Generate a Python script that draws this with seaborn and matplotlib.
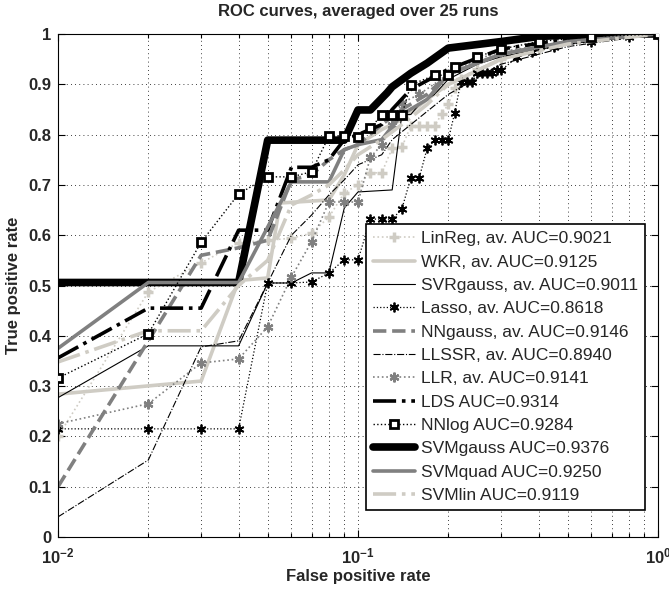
import numpy as np
import pandas as pd
import matplotlib
matplotlib.use('Agg')
import matplotlib.pyplot as plt
import seaborn as sns
from matplotlib.ticker import FixedLocator, FixedFormatter, NullFormatter

# ---------------- data ----------------
linreg_x = [0.01, 0.02, 0.03, 0.04, 0.05, 0.06, 0.07, 0.08, 0.09, 0.10, 0.11, 0.12, 0.13, 0.14,
            0.15, 0.16, 0.17, 0.18, 0.19, 0.20, 0.21, 0.22, 0.25, 0.30, 0.40, 0.60, 1.00]
linreg_y = [0.200, 0.487, 0.545, 0.585, 0.590, 0.594, 0.604, 0.636, 0.684, 0.700, 0.724, 0.724, 0.773, 0.775,
            0.817, 0.817, 0.817, 0.817, 0.841, 0.860, 0.893, 0.910, 0.930, 0.950, 0.970, 0.990, 1.000]

wkr_x = [0.01, 0.03, 0.04, 0.05, 0.055, 0.08, 0.09, 0.10, 0.12, 0.14, 0.17, 0.20, 0.30, 0.50, 1.00]
wkr_y = [0.284, 0.310, 0.510, 0.515, 0.664, 0.670, 0.720, 0.780, 0.810, 0.830, 0.870, 0.900, 0.950, 0.985, 1.000]

svrg_x = [0.01, 0.02, 0.04, 0.05, 0.06, 0.07, 0.08, 0.09, 0.10, 0.13, 0.14, 0.15, 0.16, 0.18, 0.20, 0.25, 0.30, 0.50, 1.00]
svrg_y = [0.277, 0.380, 0.380, 0.505, 0.505, 0.525, 0.525, 0.654, 0.686, 0.690, 0.840, 0.840, 0.860, 0.880, 0.910, 0.940, 0.955, 0.980, 1.000]

lasso_x = [0.01, 0.02, 0.03, 0.04, 0.05, 0.06, 0.07, 0.08, 0.09, 0.10, 0.11, 0.12, 0.13, 0.14, 0.15, 0.16,
           0.17, 0.18, 0.19, 0.20, 0.21, 0.22, 0.23, 0.24, 0.25, 0.26, 0.27, 0.28, 0.29, 0.30, 0.34, 0.38,
           0.45, 0.60, 0.80, 1.00]
lasso_y = [0.215, 0.215, 0.215, 0.215, 0.505, 0.505, 0.507, 0.525, 0.551, 0.551, 0.632, 0.632, 0.632, 0.652, 0.714, 0.714,
           0.773, 0.790, 0.790, 0.790, 0.843, 0.904, 0.904, 0.904, 0.922, 0.922, 0.922, 0.922, 0.928, 0.928, 0.954, 0.964,
           0.975, 0.985, 0.995, 1.000]

nng_x = [0.01, 0.02, 0.03, 0.04, 0.05, 0.06, 0.07, 0.08, 0.09, 0.10, 0.12, 0.14, 0.17, 0.20, 0.30, 0.50, 1.00]
nng_y = [0.100, 0.390, 0.560, 0.575, 0.590, 0.710, 0.720, 0.750, 0.770, 0.780, 0.820, 0.850, 0.880, 0.920, 0.960, 0.985, 1.000]

llssr_x = [0.01, 0.02, 0.03, 0.04, 0.05, 0.06, 0.07, 0.08, 0.09, 0.10, 0.12, 0.13, 0.15, 0.20, 0.30, 0.50, 1.00]
llssr_y = [0.040, 0.153, 0.378, 0.390, 0.505, 0.600, 0.640, 0.680, 0.710, 0.740, 0.760, 0.790, 0.820, 0.880, 0.940, 0.975, 1.000]

llr_x = [0.01, 0.02, 0.03, 0.04, 0.05, 0.06, 0.07, 0.08, 0.09, 0.10, 0.11, 0.12, 0.13, 0.14, 0.16, 0.20, 0.25, 0.30, 0.50, 1.00]
llr_y = [0.225, 0.265, 0.346, 0.354, 0.418, 0.517, 0.587, 0.666, 0.666, 0.666, 0.755, 0.780, 0.820, 0.863, 0.880, 0.920, 0.950, 0.965, 0.985, 1.000]

lds_x = [0.01, 0.02, 0.03, 0.04, 0.05, 0.06, 0.07, 0.08, 0.09, 0.10, 0.12, 0.13, 0.15, 0.20, 0.30, 0.50, 1.00]
lds_y = [0.356, 0.455, 0.455, 0.610, 0.610, 0.735, 0.735, 0.750, 0.790, 0.800, 0.820, 0.850, 0.890, 0.930, 0.970, 0.990, 1.000]

nnlog_x = [0.01, 0.02, 0.03, 0.04, 0.05, 0.06, 0.07, 0.08, 0.09, 0.10, 0.11, 0.12, 0.13, 0.14, 0.15, 0.18, 0.20,
           0.21, 0.25, 0.30, 0.40, 0.60, 1.00]
nnlog_y = [0.316, 0.404, 0.586, 0.682, 0.716, 0.716, 0.726, 0.797, 0.797, 0.795, 0.813, 0.839, 0.839, 0.839, 0.899, 0.918, 0.918,
           0.934, 0.955, 0.970, 0.985, 0.995, 1.000]

svmg_x = [0.01, 0.04, 0.05, 0.09, 0.10, 0.11, 0.125, 0.13, 0.15, 0.17, 0.20, 0.30, 0.40, 0.60, 1.00]
svmg_y = [0.506, 0.506, 0.789, 0.789, 0.849, 0.849, 0.883, 0.895, 0.922, 0.942, 0.972, 0.985, 0.995, 1.000, 1.000]

svmq_x = [0.01, 0.02, 0.04, 0.06, 0.08, 0.09, 0.10, 0.12, 0.14, 0.17, 0.20, 0.30, 0.50, 1.00]
svmq_y = [0.375, 0.506, 0.506, 0.706, 0.706, 0.770, 0.780, 0.790, 0.840, 0.870, 0.920, 0.960, 0.985, 1.000]

svml_x = [0.01, 0.02, 0.03, 0.04, 0.05, 0.06, 0.07, 0.08, 0.09, 0.10, 0.12, 0.14, 0.17, 0.20, 0.30, 0.50, 1.00]
svml_y = [0.348, 0.410, 0.410, 0.500, 0.550, 0.660, 0.680, 0.700, 0.730, 0.760, 0.790, 0.820, 0.860, 0.900, 0.950, 0.980, 1.000]

labels = ["LinReg, av. AUC=0.9021", "WKR, av. AUC=0.9125", "SVRgauss, av. AUC=0.9011",
          "Lasso, av. AUC=0.8618", "NNgauss, av. AUC=0.9146", "LLSSR, av. AUC=0.8940",
          "LLR, av. AUC=0.9141", "LDS AUC=0.9314", "NNlog AUC=0.9284",
          "SVMgauss AUC=0.9376", "SVMquad AUC=0.9250", "SVMlin AUC=0.9119"]

xticks = [0.01, 0.1, 1.0]
xticklabels = [r'$\mathbf{10^{-2}}$', r'$\mathbf{10^{-1}}$', r'$\mathbf{10^{0}}$']
yticks = [0, 0.1, 0.2, 0.3, 0.4, 0.5, 0.6, 0.7, 0.8, 0.9, 1.0]
yticklabels = ["0", "0.1", "0.2", "0.3", "0.4", "0.5", "0.6", "0.7", "0.8", "0.9", "1"]

# ---------------- style ----------------
sns.set_style('ticks')
plt.rcParams['font.family'] = ['Liberation Sans', 'DejaVu Sans']
plt.rcParams['mathtext.fontset'] = 'custom'
plt.rcParams['mathtext.rm'] = 'Liberation Sans:bold'
plt.rcParams['mathtext.bf'] = 'Liberation Sans:bold'
plt.rcParams['mathtext.it'] = 'Liberation Sans:bold'

LIGHT = '#cfccc4'
GRAY = '#808080'
BLACK = '#000000'
AST = (6, 2, 0)

styles = [
    dict(color=LIGHT, linestyle=':', lw=1.2, marker='+', ms=7, mew=2.5, mec=LIGHT),
    dict(color=LIGHT, linestyle='-', lw=2.6),
    dict(color=BLACK, linestyle='-', lw=0.8),
    dict(color=BLACK, linestyle=':', lw=0.9, marker=AST, ms=7, mew=1.3, mec=BLACK, mfc=BLACK),
    dict(color=GRAY, linestyle='--', lw=2.6),
    dict(color=BLACK, linestyle='-.', lw=0.8),
    dict(color=GRAY, linestyle=':', lw=1.2, marker=AST, ms=7, mew=1.6, mec=GRAY, mfc=GRAY),
    dict(color=BLACK, linestyle='-.', lw=2.6),
    dict(color=BLACK, linestyle=':', lw=1.0, marker='s', ms=6, mew=2.0, mec=BLACK, mfc='white', zorder=4),
    dict(color=BLACK, linestyle='-', lw=5.5),
    dict(color=GRAY, linestyle='-', lw=2.6),
    dict(color=LIGHT, linestyle='-.', lw=2.6),
]
series = [(linreg_x, linreg_y), (wkr_x, wkr_y), (svrg_x, svrg_y), (lasso_x, lasso_y),
          (nng_x, nng_y), (llssr_x, llssr_y), (llr_x, llr_y), (lds_x, lds_y),
          (nnlog_x, nnlog_y), (svmg_x, svmg_y), (svmq_x, svmq_y), (svml_x, svml_y)]

fig = plt.figure(figsize=(6.69, 5.89), dpi=100)
ax = fig.add_axes([58 / 669, 1 - 537 / 589, 600 / 669, 503 / 589])

for (xs, ys), lab, st in zip(series, labels, styles):
    df = pd.DataFrame({"fpr": xs, "tpr": ys})
    st = dict(st)
    st.setdefault('mec', st['color'])
    sns.lineplot(data=df, x="fpr", y="tpr", ax=ax, label=lab, sort=False,
                 estimator=None, **st)

ax.set_xscale('log')
ax.set_xlim(0.01, 1.0)
ax.set_ylim(0, 1)

ax.xaxis.set_major_locator(FixedLocator(xticks))
ax.xaxis.set_major_formatter(FixedFormatter(xticklabels))
minor = [m * d for d in (0.01, 0.1) for m in range(2, 10)]
ax.xaxis.set_minor_locator(FixedLocator(minor))
ax.xaxis.set_minor_formatter(NullFormatter())
ax.yaxis.set_major_locator(FixedLocator(yticks))
ax.yaxis.set_major_formatter(FixedFormatter(yticklabels))

ax.tick_params(which='both', direction='in', top=True, right=True, color='black', width=0.8)
ax.tick_params(which='major', length=5, labelsize=12)
ax.tick_params(axis='x', which='major', pad=7)
ax.tick_params(axis='y', which='major', pad=5)
ax.tick_params(which='minor', length=3)
for lab in ax.get_yticklabels():
    lab.set_fontweight('bold')
for sp in ax.spines.values():
    sp.set_visible(True)
    sp.set_color('black')
    sp.set_linewidth(0.8)

ax.grid(True, which='major', axis='both', color='black', linestyle=(0, (1, 4)), lw=0.6)
ax.grid(True, which='minor', axis='x', color='black', linestyle=(0, (1, 4)), lw=0.6)
ax.set_axisbelow(True)

ax.set_title("ROC curves, averaged over 25 runs", fontsize=12, fontweight='bold', pad=13)
ax.set_xlabel("False positive rate", fontsize=12, fontweight='bold', labelpad=2)
ax.set_ylabel("True positive rate", fontsize=12, fontweight='bold', labelpad=5)

handles, labs = ax.get_legend_handles_labels()
leg = ax.legend(handles, labs, loc='lower right', bbox_to_anchor=(0.978, 0.054),
                fontsize=12.5, frameon=True, fancybox=False, framealpha=1,
                edgecolor='black', handlelength=2.4, handletextpad=0.35,
                labelspacing=0.47, borderpad=0.4, numpoints=1, borderaxespad=0)
leg.get_frame().set_linewidth(1.2)

fig.savefig("out.png", dpi=100)
